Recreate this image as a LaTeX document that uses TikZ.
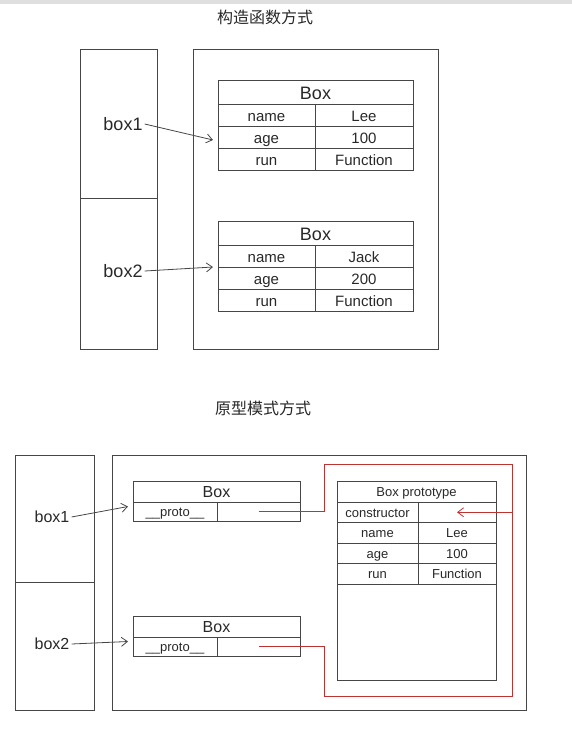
\documentclass[tikz,border=0pt]{standalone}
\usepackage{fontspec}
\setmainfont{Liberation Sans}
\newfontfamily\cjk{Noto Sans CJK SC}
\usetikzlibrary{arrows.meta}
\definecolor{linegray}{RGB}{70,70,70}
\definecolor{textgray}{RGB}{40,40,40}
\definecolor{protored}{RGB}{190,50,50}
\tikzset{
  cell/.style={draw=linegray, line width=0.9pt, inner sep=0pt, outer sep=0pt, text=textgray,
    text depth=0pt},
  big/.style={font=\fontsize{18}{18}\selectfont, text height=14.4pt},
  mid/.style={font=\fontsize{16}{16}\selectfont, text height=12.8pt},
  small/.style={font=\fontsize{15}{15}\selectfont, text height=12pt},
  tiny/.style={font=\fontsize{13}{13}\selectfont, text height=10.4pt},
  varlabel/.style={inner sep=2pt, text=textgray},
  ptr/.style={draw=linegray, line width=0.8pt, -{Straight Barb[length=6pt,width=9pt]}},
  redline/.style={draw=protored, line width=0.8pt},
  title/.style={text=textgray, font=\cjk\fontsize{16}{16}\selectfont}
}
\begin{document}
\begin{tikzpicture}[x=1pt,y=-1pt]
    \useasboundingbox (0,0) rectangle (572,740);
    \fill[gray!25] (0,0) rectangle (572,4);
    \node[title] (title1) at (265,17) {构造函数方式};
    \node[title] (title2) at (263,408) {原型模式方式};
    \begin{scope}[every node/.style={cell}]
        \node[minimum width=77, minimum height=149] (stack1) at (118.5,123.5) {};
        \node[minimum width=77, minimum height=151] (stack2) at (118.5,273.5) {};
        \node[minimum width=245, minimum height=300] (heap1) at (315.5,199) {};
    \end{scope}
    \begin{scope}[every node/.style={cell, minimum height=22, small}]
        \node[minimum width=195, minimum height=24, big] (aobj) at (315.5,92) {Box};
        \node[minimum width=97] (aname) at (266.5,115) {name};
        \node[minimum width=98] (anameval) at (364,115) {Lee};
        \node[minimum width=97] (aage) at (266.5,137) {age};
        \node[minimum width=98] (aageval) at (364,137) {100};
        \node[minimum width=97] (arun) at (266.5,159) {run};
        \node[minimum width=98] (arunval) at (364,159) {Function};
        \node[minimum width=195, minimum height=24, big] (bobj) at (315.5,233) {Box};
        \node[minimum width=97] (bname) at (266.5,256) {name};
        \node[minimum width=98] (bnameval) at (364,256) {Jack};
        \node[minimum width=97] (bage) at (266.5,278) {age};
        \node[minimum width=98] (bageval) at (364,278) {200};
        \node[minimum width=97] (brun) at (266.5,300) {run};
        \node[minimum width=98] (brunval) at (364,300) {Function};
    \end{scope}
    \begin{scope}[every node/.style={varlabel, font=\fontsize{18}{18}\selectfont}]
        \node (lbl1) at (123,124) {box1};
        \node (lbl2) at (123,271) {box2};
    \end{scope}
    \draw[ptr] (lbl1.east) -- ([xshift=-5pt,yshift=-3pt]aage.west);
    \draw[ptr] (lbl2.east) -- ([xshift=-5pt]bname.south west);
    \begin{scope}[every node/.style={cell}]
        \node[minimum width=79, minimum height=127] (stack3) at (54.5,518.5) {};
        \node[minimum width=79, minimum height=128] (stack4) at (54.5,646) {};
        \node[minimum width=414, minimum height=255] (heap2) at (319,582.5) {};
        \node[minimum width=159, minimum height=199] (protobox) at (416.5,580.5) {};
    \end{scope}
    \begin{scope}[every node/.style={cell, minimum height=19, tiny}]
        \node[minimum width=167, minimum height=21, mid] (cobj) at (216.5,491.5) {Box};
        \node[minimum width=84] (cproto) at (175,511.5) {\_\_proto\_\_};
        \node[minimum width=83] (cprotoval) at (258.5,511.5) {};
        \node[minimum width=167, minimum height=21, mid] (dobj) at (216.5,626.5) {Box};
        \node[minimum width=84] (dproto) at (175,646.5) {\_\_proto\_\_};
        \node[minimum width=83] (dprotoval) at (258.5,646.5) {};
    \end{scope}
    \begin{scope}[every node/.style={cell, minimum height=20.5, tiny}]
        \node[minimum width=159, minimum height=21] (pobj) at (416.5,491.5) {Box prototype};
        \node[minimum width=81] (pctor) at (377.5,512.25) {constructor};
        \node[minimum width=78] (pctorval) at (457,512.25) {};
        \node[minimum width=81] (pname) at (377.5,532.75) {name};
        \node[minimum width=78] (pnameval) at (457,532.75) {Lee};
        \node[minimum width=81] (page) at (377.5,553.25) {age};
        \node[minimum width=78] (pageval) at (457,553.25) {100};
        \node[minimum width=81] (prun) at (377.5,573.75) {run};
        \node[minimum width=78] (prunval) at (457,573.75) {Function};
    \end{scope}
    \begin{scope}[every node/.style={varlabel, font=\fontsize{16}{16}\selectfont}]
        \node (lbl3) at (52,517) {box1};
        \node (lbl4) at (52,644) {box2};
    \end{scope}
    \draw[ptr] (lbl3.east) -- ([xshift=-5pt,yshift=5pt]cproto.west);
    \draw[ptr] (lbl4.east) -- ([xshift=-5pt,yshift=5pt]dproto.west);
    \coordinate (redtl) at (324,464);
    \coordinate (redtr) at (512,464);
    \coordinate (redbr) at (512,696);
    \coordinate (redbl) at (324,696);
    \draw[redline] (cprotoval.center) -| (redtl) -- (redtr) -- (redbr) -- (redbl) |- (dprotoval.center);
    \draw[redline, -{Straight Barb[length=6pt,width=9pt]}] (redtr |- pctorval) -- (pctorval.center);
\end{tikzpicture}
\end{document}
